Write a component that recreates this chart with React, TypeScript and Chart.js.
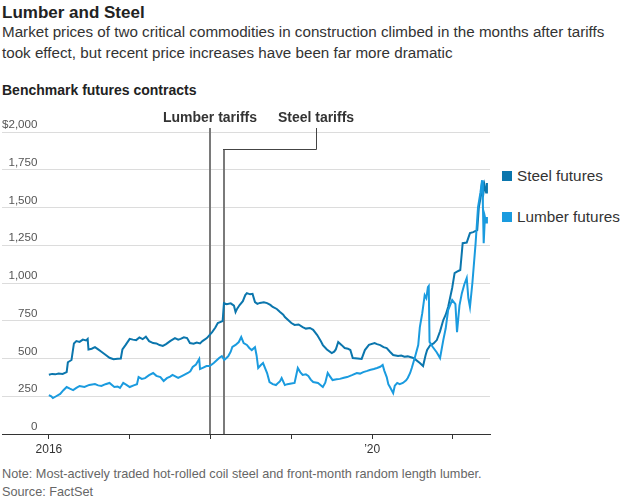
import React, { useEffect, useRef } from 'react';
import { Chart, registerables } from 'chart.js';

Chart.register(...registerables);

// [decimal year, $ price]
const steelSeries: [number, number][] = [
  [2016.0, 392], [2016.04, 398], [2016.08, 395], [2016.12, 400], [2016.17, 398], [2016.22, 410],
  [2016.235, 475], [2016.28, 490], [2016.31, 600], [2016.34, 615], [2016.38, 610], [2016.42, 625],
  [2016.46, 620], [2016.48, 630], [2016.49, 560], [2016.53, 565], [2016.57, 575], [2016.61, 560],
  [2016.65, 545], [2016.7, 525], [2016.75, 505], [2016.8, 495], [2016.85, 498], [2016.89, 500],
  [2016.91, 560], [2016.95, 590], [2017.0, 630], [2017.04, 625], [2017.08, 622], [2017.12, 640],
  [2017.16, 628], [2017.2, 645], [2017.24, 615], [2017.29, 602], [2017.33, 600], [2017.37, 589],
  [2017.41, 583], [2017.45, 595], [2017.5, 615], [2017.53, 625], [2017.56, 635], [2017.6, 625],
  [2017.63, 630], [2017.67, 640], [2017.71, 635], [2017.745, 602], [2017.79, 598], [2017.83, 605],
  [2017.87, 600], [2017.9, 615], [2017.955, 635], [2018.02, 675], [2018.06, 705], [2018.09, 735],
  [2018.15, 748], [2018.166, 867], [2018.2, 860], [2018.25, 865], [2018.29, 850], [2018.31, 808],
  [2018.33, 830], [2018.36, 854], [2018.4, 880], [2018.43, 920], [2018.45, 933], [2018.49, 925],
  [2018.52, 928], [2018.55, 874], [2018.58, 862], [2018.61, 868], [2018.66, 872], [2018.7, 867],
  [2018.74, 855], [2018.77, 841], [2018.82, 828], [2018.86, 808], [2018.9, 790], [2018.92, 775],
  [2018.96, 755], [2019.0, 735], [2019.04, 722], [2019.09, 725], [2019.14, 708], [2019.18, 698],
  [2019.23, 702], [2019.27, 690], [2019.32, 655], [2019.36, 620], [2019.39, 589], [2019.44, 560],
  [2019.5, 536], [2019.53, 545], [2019.55, 560], [2019.58, 609], [2019.62, 590], [2019.66, 569],
  [2019.7, 565], [2019.73, 556], [2019.76, 503], [2019.82, 500], [2019.87, 497], [2019.91, 556],
  [2019.96, 590], [2020.03, 602], [2020.06, 595], [2020.1, 589], [2020.14, 575], [2020.18, 569],
  [2020.22, 545], [2020.26, 523], [2020.32, 516], [2020.36, 520], [2020.4, 512], [2020.44, 514],
  [2020.47, 510], [2020.5, 505], [2020.53, 496], [2020.59, 470], [2020.63, 450], [2020.66, 520],
  [2020.68, 556], [2020.72, 589], [2020.76, 600], [2020.8, 622], [2020.84, 680], [2020.88, 755],
  [2020.91, 790], [2020.94, 841], [2020.99, 967], [2021.02, 1066], [2021.05, 1075], [2021.09, 1086],
  [2021.12, 1264], [2021.17, 1268], [2021.21, 1330], [2021.25, 1337], [2021.3, 1350], [2021.32, 1503],
  [2021.34, 1560], [2021.35, 1620], [2021.36, 1668], [2021.37, 1569], [2021.39, 1650], [2021.41, 1600],
  [2021.42, 1662],
];

const lumberSeries: [number, number][] = [
  [2016.0, 258], [2016.03, 250], [2016.05, 238], [2016.09, 250], [2016.14, 265], [2016.18, 290],
  [2016.22, 311], [2016.26, 300], [2016.3, 291], [2016.34, 305], [2016.38, 318], [2016.44, 311],
  [2016.5, 325], [2016.57, 331], [2016.61, 322], [2016.65, 318], [2016.7, 330], [2016.75, 338],
  [2016.81, 311], [2016.85, 315], [2016.88, 305], [2016.92, 338], [2016.96, 325], [2017.0, 311],
  [2017.05, 322], [2017.09, 330], [2017.11, 377], [2017.15, 365], [2017.19, 370], [2017.24, 390],
  [2017.29, 404], [2017.33, 385], [2017.38, 377], [2017.42, 351], [2017.46, 370], [2017.5, 380],
  [2017.53, 391], [2017.57, 380], [2017.6, 371], [2017.65, 385], [2017.72, 404], [2017.75, 415],
  [2017.78, 444], [2017.82, 460], [2017.86, 497], [2017.87, 430], [2017.91, 440], [2017.95, 450],
  [2017.99, 450], [2018.04, 470], [2018.08, 490], [2018.11, 505], [2018.14, 516], [2018.17, 490],
  [2018.2, 505], [2018.22, 516], [2018.25, 545], [2018.27, 576], [2018.31, 590], [2018.35, 609],
  [2018.38, 642], [2018.41, 602], [2018.45, 590], [2018.48, 570], [2018.51, 556], [2018.55, 575],
  [2018.57, 520], [2018.59, 437], [2018.62, 455], [2018.65, 470], [2018.68, 430], [2018.7, 404],
  [2018.73, 344], [2018.77, 330], [2018.81, 324], [2018.84, 340], [2018.86, 350], [2018.88, 371],
  [2018.92, 324], [2018.95, 330], [2019.0, 335], [2019.04, 338], [2019.08, 437], [2019.11, 410],
  [2019.14, 391], [2019.18, 395], [2019.21, 385], [2019.24, 360], [2019.27, 344], [2019.33, 338],
  [2019.36, 325], [2019.39, 311], [2019.42, 340], [2019.45, 404], [2019.48, 380], [2019.51, 357],
  [2019.56, 362], [2019.6, 365], [2019.65, 372], [2019.69, 377], [2019.75, 390], [2019.81, 404],
  [2019.85, 400], [2019.89, 410], [2019.94, 418], [2019.97, 424], [2020.02, 430], [2020.06, 437],
  [2020.1, 445], [2020.13, 457], [2020.15, 420], [2020.18, 377], [2020.2, 330], [2020.22, 311],
  [2020.26, 271], [2020.28, 320], [2020.31, 338], [2020.34, 330], [2020.38, 338], [2020.42, 355],
  [2020.44, 371], [2020.47, 404], [2020.49, 437], [2020.53, 510], [2020.57, 589], [2020.59, 708],
  [2020.62, 800], [2020.65, 920], [2020.67, 900], [2020.69, 973], [2020.7, 980], [2020.71, 610],
  [2020.75, 576], [2020.8, 540], [2020.84, 503], [2020.88, 622], [2020.91, 700], [2020.94, 821],
  [2020.99, 887], [2021.03, 860], [2021.05, 675], [2021.08, 850], [2021.11, 933], [2021.14, 990],
  [2021.17, 1033], [2021.19, 900], [2021.21, 841], [2021.24, 1000], [2021.28, 1264], [2021.31, 1503],
  [2021.34, 1600], [2021.36, 1681], [2021.37, 1520], [2021.38, 1264], [2021.395, 1437], [2021.41, 1400],
  [2021.42, 1437],
];

const yTicks = [0, 250, 500, 750, 1000, 1250, 1500, 1750, 2000];
const xTickLabels: Record<number, string> = { 2016: '2016', 2020: '\u201920' };
const lumberTariffDate = 2017.99;
const steelTariffDate = 2018.166;

const STEEL = '#0b76ad';
const LUMBER = '#1a9bdf';
const FONT = "'Liberation Sans', Arial, sans-serif";

const tariffPlugin = {
  id: 'tariffs',
  beforeDatasetsDraw(chart: any) {
    const { ctx, chartArea, scales } = chart;
    const x = scales.x;
    const lx = Math.round(x.getPixelForValue(lumberTariffDate));
    const sx = Math.round(x.getPixelForValue(steelTariffDate));
    ctx.save();
    ctx.strokeStyle = '#7a7a7a';
    ctx.lineWidth = 2;
    ctx.beginPath();
    ctx.moveTo(lx, chartArea.top - 4);
    ctx.lineTo(lx, chartArea.bottom);
    ctx.moveTo(sx, chartArea.top + 17);
    ctx.lineTo(sx, chartArea.bottom);
    ctx.stroke();
    ctx.restore();
  },
  afterDraw(chart: any) {
    const { ctx, chartArea, scales } = chart;
    const x = scales.x;
    const lx = Math.round(x.getPixelForValue(lumberTariffDate));
    const sx = Math.round(x.getPixelForValue(steelTariffDate));
    const labelX = sx + 92;
    ctx.save();
    ctx.strokeStyle = '#444';
    ctx.lineWidth = 1;
    ctx.beginPath();
    ctx.moveTo(sx - 1, chartArea.top + 17.5);
    ctx.lineTo(labelX + 0.5, chartArea.top + 17.5);
    ctx.lineTo(labelX + 0.5, chartArea.top - 4);
    ctx.stroke();
    ctx.fillStyle = '#333';
    ctx.font = `bold 14px ${FONT}`;
    ctx.textAlign = 'center';
    ctx.textBaseline = 'alphabetic';
    ctx.fillText('Lumber tariffs', lx, chartArea.top - 10);
    ctx.fillText('Steel tariffs', labelX, chartArea.top - 10);
    ctx.restore();
  },
};

export default function App() {
  const canvasRef = useRef<HTMLCanvasElement | null>(null);

  useEffect(() => {
    if (!canvasRef.current) return;
    const chart = new Chart(canvasRef.current, {
      type: 'line',
      data: {
        datasets: [
          {
            label: 'Lumber futures',
            data: lumberSeries.map(([x, y]) => ({ x, y })),
            borderColor: LUMBER,
            backgroundColor: LUMBER,
            borderWidth: 2,
            pointRadius: 0,
            tension: 0,
          },
          {
            label: 'Steel futures',
            data: steelSeries.map(([x, y]) => ({ x, y })),
            borderColor: STEEL,
            backgroundColor: STEEL,
            borderWidth: 2,
            pointRadius: 0,
            tension: 0,
          },
        ],
      },
      options: {
        animation: false,
        responsive: false,
        maintainAspectRatio: false,
        layout: { padding: { top: 32, right: 10, left: 2, bottom: 0 } },
        plugins: { legend: { display: false }, tooltip: { enabled: false } },
        scales: {
          x: {
            type: 'linear',
            min: 2015.42,
            max: 2021.458,
            afterFit: (s: any) => { s.height = 30; },
            afterBuildTicks: (s: any) => {
              s.ticks = [2016, 2017, 2018, 2019, 2020, 2021].map((v) => ({ value: v }));
            },
            ticks: {
              callback: (v: any) => xTickLabels[v] ?? '',
              color: '#333',
              font: { family: FONT, size: 12 },
              padding: 3,
              maxRotation: 0,
              autoSkip: false,
              includeBounds: false,
            },
            grid: { drawOnChartArea: false, drawTicks: true, tickLength: 5, color: '#333' },
            border: { display: true, color: '#333', width: 1 },
          },
          y: {
            min: 0,
            max: 2000,
            afterFit: (s: any) => { s.width = 0; },
            afterBuildTicks: (s: any) => { s.ticks = yTicks.map((v) => ({ value: v })); },
            ticks: {
              mirror: true,
              crossAlign: 'far',
              padding: 0,
              labelOffset: -7,
              color: '#555',
              font: { family: FONT, size: 11.6 },
              callback: (v: any) => (v === 2000 ? '$2,000' : Number(v).toLocaleString('en-US')),
            },
            grid: { color: '#dcdcdc', drawTicks: false, tickLength: 0 },
            border: { display: false },
          },
        },
      },
      plugins: [tariffPlugin],
    });
    return () => chart.destroy();
  }, []);

  const legendItem = (top: number, color: string, label: string) => (
    <div style={{ position: 'absolute', left: 502, top, display: 'flex', alignItems: 'center', height: 20 }}>
      <div style={{ width: 10, height: 10, background: color, marginRight: 5 }} />
      <span style={{ fontSize: 15.3, color: '#333', fontFamily: FONT, whiteSpace: 'nowrap' }}>{label}</span>
    </div>
  );

  return (
    <div style={{ position: 'absolute', left: 0, top: 0, width: 620, height: 500, background: '#fff', fontFamily: FONT, overflow: 'hidden' }}>
      <div style={{ position: 'absolute', left: 2, top: 2, fontSize: 17, fontWeight: 'bold', color: '#222', lineHeight: '22px' }}>
        Lumber and Steel
      </div>
      <div style={{ position: 'absolute', left: 2, top: 21, width: 615, fontSize: 15.2, color: '#333', lineHeight: '21px' }}>
        Market prices of two critical commodities in construction climbed in the months after tariffs took effect, but recent price increases have been far more dramatic
      </div>
      <div style={{ position: 'absolute', left: 2, top: 81, fontSize: 14, fontWeight: 'bold', color: '#222', lineHeight: '18px' }}>
        Benchmark futures contracts
      </div>
      <canvas ref={canvasRef} width={500} height={364} style={{ position: 'absolute', left: 0, top: 100, width: 500, height: 364 }} />
      {legendItem(166, STEEL, 'Steel futures')}
      {legendItem(207, LUMBER, 'Lumber futures')}
      <div style={{ position: 'absolute', left: 2, top: 465, fontSize: 12.7, color: '#666', lineHeight: '18px' }}>
        Note: Most-actively traded hot-rolled coil steel and front-month random length lumber.
        <br />
        Source: FactSet
      </div>
    </div>
  );
}
